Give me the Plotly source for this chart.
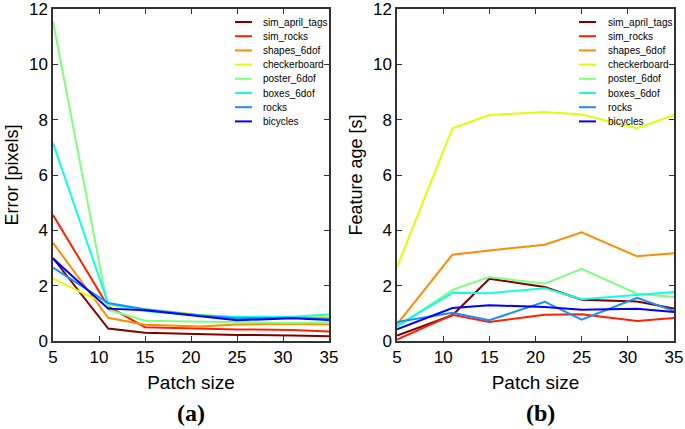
import plotly.graph_objects as go

patch_size = [5, 11, 15, 21, 25, 31, 35]
series_names = ["sim_april_tags", "sim_rocks", "shapes_6dof", "checkerboard",
                "poster_6dof", "boxes_6dof", "rocks", "bicycles"]
colors = ["#800000", "#ff2000", "#ff8c00", "#dfff00",
          "#7fff7f", "#10ffe0", "#1a8cff", "#0000ff"]

# (a) Error [pixels]
error_sim_april_tags = [3.0, 0.45, 0.30, 0.25, 0.22, 0.20, 0.17]
error_sim_rocks = [4.55, 1.25, 0.50, 0.45, 0.42, 0.40, 0.34]
error_shapes_6dof = [3.55, 0.84, 0.59, 0.52, 0.60, 0.62, 0.60]
error_checkerboard = [2.25, 1.29, 1.15, 0.95, 0.85, 0.85, 0.86]
error_poster_6dof = [11.55, 1.13, 0.73, 0.70, 0.67, 0.65, 0.67]
error_boxes_6dof = [7.15, 1.35, 1.08, 0.93, 0.87, 0.88, 0.96]
error_rocks = [2.65, 1.37, 1.15, 0.92, 0.82, 0.84, 0.80]
error_bicycles = [2.98, 1.17, 1.11, 0.88, 0.75, 0.82, 0.76]

# (b) Feature age [s]
age_sim_april_tags = [0.20, 0.93, 2.25, 1.95, 1.49, 1.43, 1.17]
age_sim_rocks = [0.05, 0.95, 0.69, 0.95, 0.97, 0.72, 0.83]
age_shapes_6dof = [0.60, 3.12, 3.27, 3.48, 3.93, 3.06, 3.17]
age_checkerboard = [2.67, 7.69, 8.17, 8.28, 8.19, 7.69, 8.17]
age_poster_6dof = [0.50, 1.85, 2.31, 2.07, 2.61, 1.71, 1.59]
age_boxes_6dof = [0.55, 1.74, 1.73, 1.91, 1.51, 1.68, 1.77]
age_rocks = [0.69, 1.02, 0.75, 1.42, 0.77, 1.56, 1.08]
age_bicycles = [0.42, 1.19, 1.29, 1.23, 1.13, 1.17, 1.05]

error_series = [error_sim_april_tags, error_sim_rocks, error_shapes_6dof, error_checkerboard,
                error_poster_6dof, error_boxes_6dof, error_rocks, error_bicycles]
age_series = [age_sim_april_tags, age_sim_rocks, age_shapes_6dof, age_checkerboard,
              age_poster_6dof, age_boxes_6dof, age_rocks, age_bicycles]

fig = go.Figure()
for name, col, vals in zip(series_names, colors, error_series):
    fig.add_trace(go.Scatter(x=patch_size, y=vals, mode="lines", name=name,
                             line=dict(color=col, width=2), xaxis="x", yaxis="y",
                             showlegend=False))
for name, col, vals in zip(series_names, colors, age_series):
    fig.add_trace(go.Scatter(x=patch_size, y=vals, mode="lines", name=name,
                             line=dict(color=col, width=2), xaxis="x2", yaxis="y2",
                             showlegend=False))

L, R, T, B = 53, 11, 9, 88
W, H = 685, 429
pw = W - L - R
ph = H - T - B

def px_x(p):
    return (p - L) / pw

def px_y(p):
    return (H - B - p) / ph

def dom(a, b):
    return [px_x(a), px_x(b)]

sans = "Liberation Sans, Arial, Helvetica, sans-serif"
axis_font = dict(family=sans, size=17, color="black")
common_x = dict(range=[5, 35], tickvals=[5, 10, 15, 20, 25, 30, 35], ticks="inside",
                ticklen=5, tickcolor="#333", mirror="allticks", showline=True,
                linecolor="#333", linewidth=1.5, showgrid=False, zeroline=False,
                tickfont=axis_font, ticklabeloverflow="allow", automargin=False,
                title=dict(text="Patch size", font=dict(family=sans, size=19, color="black"),
                           standoff=10))
common_y = dict(range=[0, 12], dtick=2, ticks="inside", ticklen=5, tickcolor="#333",
                mirror="allticks", showline=True, linecolor="#333", linewidth=1.5,
                showgrid=False, zeroline=False, tickfont=axis_font,
                ticklabeloverflow="allow", automargin=False)

# compact gnuplot-style key for each panel
shapes = []
annotations = []
legend_origins = [(235, 252, 261), (579, 596, 606)]
for (lx0, lx1, tx) in legend_origins:
    for i, (name, col) in enumerate(zip(series_names, colors)):
        yy = 22 + i * 14.2
        shapes.append(dict(type="line", xref="paper", yref="paper",
                           x0=px_x(lx0), x1=px_x(lx1), y0=px_y(yy), y1=px_y(yy),
                           line=dict(color=col, width=2)))
        annotations.append(dict(text=name, xref="paper", yref="paper", x=px_x(tx), y=px_y(yy),
                                xanchor="left", yanchor="middle", showarrow=False,
                                font=dict(family=sans, size=10, color="black")))

serif_b = dict(family="Liberation Serif, Times New Roman, serif", size=24, color="black")
annotations.append(dict(text="<b>(a)</b>", xref="paper", yref="paper", x=px_x(191),
                        y=px_y(413), showarrow=False, xanchor="center", yanchor="middle",
                        font=serif_b))
annotations.append(dict(text="<b>(b)</b>", xref="paper", yref="paper", x=px_x(540),
                        y=px_y(413), showarrow=False, xanchor="center", yanchor="middle",
                        font=serif_b))

fig.update_layout(
    width=W, height=H,
    margin=dict(l=L, r=R, t=T, b=B, autoexpand=False),
    paper_bgcolor="white", plot_bgcolor="white",
    xaxis=dict(domain=dom(53, 329), anchor="y", **common_x),
    yaxis=dict(domain=[0, 1], anchor="x",
               title=dict(text="Error [pixels]", font=dict(family=sans, size=18, color="black"),
                          standoff=6), **common_y),
    xaxis2=dict(domain=dom(397, 674), anchor="y2", **common_x),
    yaxis2=dict(domain=[0, 1], anchor="x2",
                title=dict(text="Feature age [s]", font=dict(family=sans, size=18, color="black"),
                           standoff=6), **common_y),
    shapes=shapes,
    annotations=annotations,
)

fig.write_html("out.html", config={"displayModeBar": False},
               post_script="document.body.style.margin='0px';")
